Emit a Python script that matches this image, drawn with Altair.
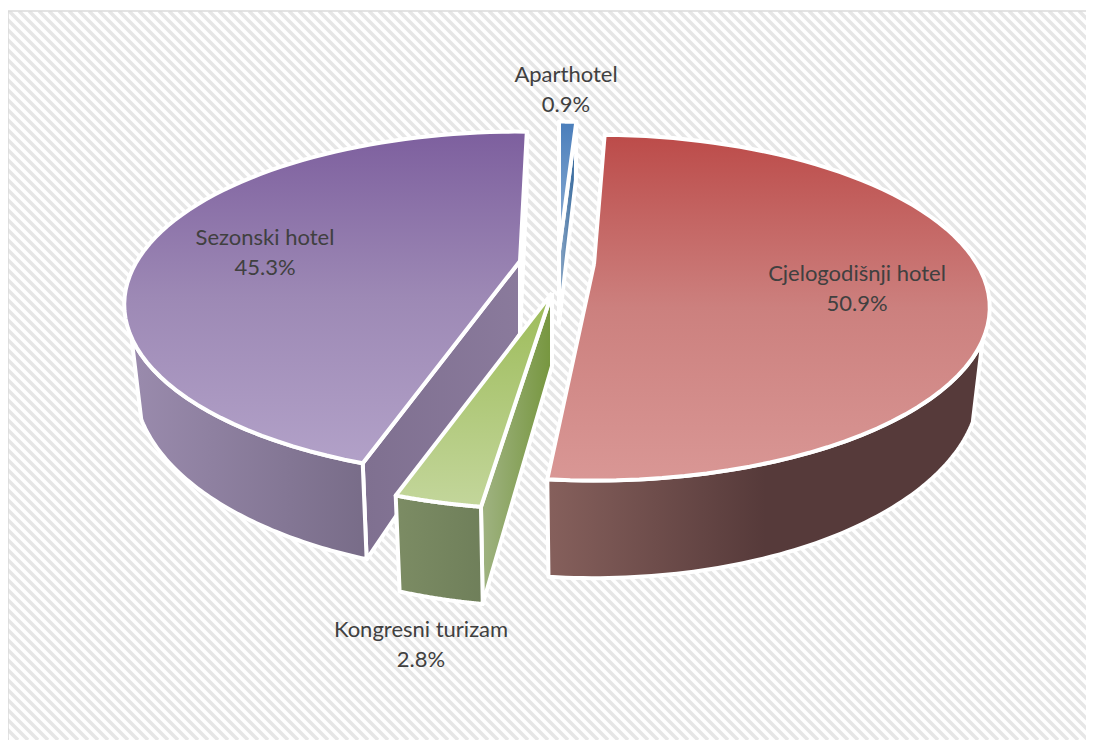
import altair as alt
import numpy as np
import pandas as pd

# --- data ---
categories = ["Aparthotel", "Cjelogodišnji hotel", "Kongresni turizam", "Sezonski hotel"]
shares = [0.9, 50.9, 2.8, 45.3]

# --- layout: page pixels relative to the plot's corner ---
W, H = 1078, 729
OX, OY = 8, 11
R, FH, K, DEPTH, SHRINK = 383.0, 162.0, 0.252, 73.0, 0.975
RIM = 115.0
starts = [0.0, 2.0, 188.0, 198.2]
apexes = [(559, 251), (594, 264), (552, 293), (520, 261)]
label_pos = [(566, 75, 105), (857, 274, 304), (421, 630, 660), (265, 238, 268)]


def project(apex, deg, r=1.0, low=False):
    a = np.radians(deg)
    u, v = r * np.sin(a), r * np.cos(a)
    w = 1 + K * v
    s = SHRINK if low else 1.0
    x = apex[0] + s * R * u / w
    y = apex[1] - FH * v / w + (DEPTH / w if low else 0.0)
    return x, y


def arc(apex, a0, a1, low=False, n=72):
    d = np.linspace(a0, a1, n)
    xs, ys = project(apex, d, low=low)
    return list(zip(xs, ys))


def grad(c0, c1, horizontal=False, mid=None):
    stops = [alt.GradientStop(color=c0, offset=0)]
    if mid:
        stops.append(alt.GradientStop(color=mid, offset=0.5))
    stops.append(alt.GradientStop(color=c1, offset=1))
    if horizontal:
        return alt.Gradient(gradient="linear", stops=stops, x1=0, x2=1, y1=0, y2=0)
    return alt.Gradient(gradient="linear", stops=stops, x1=0, x2=0, y1=0, y2=1)


xs = alt.X("x:Q", scale=alt.Scale(domain=[0, W], nice=False, zero=False), axis=None)
ys = alt.Y("y:Q", scale=alt.Scale(domain=[H, 0], nice=False, zero=False), axis=None)


def poly(points, fill):
    pts = list(points) + [points[0]]
    df = pd.DataFrame({
        "x": [p[0] - OX for p in pts],
        "y": [p[1] - OY for p in pts],
        "i": range(len(pts)),
    })
    return alt.Chart(df).mark_line(
        fill=fill, stroke="white", strokeWidth=4, strokeJoin="round", interpolate="linear"
    ).encode(x=xs, y=ys, order=alt.Order("i:Q"))


def side(apex, deg, fill):
    return poly([project(apex, 0, r=0.0), project(apex, deg),
                 project(apex, deg, low=True), project(apex, 0, r=0.0, low=True)], fill)


def outer(apex, a0, a1, fill):
    return poly(arc(apex, a0, a1) + arc(apex, a1, a0, low=True), fill)


def top(apex, a0, a1, fill):
    return poly([project(apex, 0, r=0.0)] + arc(apex, a0, a1), fill)


ends = [s + v * 3.6 for s, v in zip(starts, shares)]

layers = []

# hatched background
off = np.arange(-H, W, 10)
stripes = pd.DataFrame({"x": off, "x2": off + H, "y": 0, "y2": H})
layers.append(alt.Chart(stripes).mark_rule(color="#E6E6E6", strokeWidth=3.5, clip=True).encode(
    x=xs, x2="x2:Q", y=ys, y2="y2:Q"))

# frame: left and top edges
frame = pd.DataFrame({"x": [0, 0], "x2": [0, W], "y": [0, 0], "y2": [H, 0]})
layers.append(alt.Chart(frame).mark_rule(color="#DADADA", strokeWidth=1.5).encode(
    x=xs, x2="x2:Q", y=ys, y2="y2:Q"))

# Aparthotel
layers += [side(apexes[0], ends[0], grad("#8FAAC8", "#2E6399", horizontal=True)),
           top(apexes[0], starts[0], ends[0], grad("#4A7EBB", "#95B3D7"))]
# Cjelogodišnji hotel
layers += [outer(apexes[1], RIM, ends[1], grad("#86605C", "#563A3A", horizontal=True, mid="#563A3A")),
           top(apexes[1], starts[1], ends[1], grad("#BC4B49", "#D99795", mid="#CC807E"))]
# Sezonski hotel
layers += [side(apexes[3], ends[3], grad("#6E5590", "#7A6399", horizontal=True)),
           side(apexes[3], starts[3], grad("#7F7090", "#8A7A9C", horizontal=True)),
           outer(apexes[3], starts[3], 360 - RIM, grad("#9A8BAD", "#786C88", horizontal=True)),
           top(apexes[3], starts[3], ends[3], grad("#7D5F9E", "#B2A1C8", mid="#9D89B5"))]
# Kongresni turizam
layers += [side(apexes[2], starts[2], grad("#A0B383", "#76963E", horizontal=True)),
           outer(apexes[2], starts[2], ends[2], grad("#7C8C64", "#6F7F5A", horizontal=True)),
           top(apexes[2], starts[2], ends[2], grad("#9CBB58", "#C3D69B"))]

# labels
rows = []
for c, v, (lx, ly1, ly2) in zip(categories, shares, label_pos):
    rows.append({"x": lx - OX, "y": ly1 - OY, "t": c})
    rows.append({"x": lx - OX, "y": ly2 - OY, "t": f"{v:.1f}%"})
layers.append(alt.Chart(pd.DataFrame(rows)).mark_text(
    font="Lato", fontSize=22, color="#404040", align="center", baseline="middle"
).encode(x=xs, y=ys, text="t:N"))

chart = alt.layer(*layers).properties(
    width=W, height=H, background="white",
    padding={"left": 0, "top": 3, "right": 0, "bottom": 0},
    autosize=alt.AutoSizeParams(type="none"),
).configure_view(strokeWidth=0)

chart.save("out.html", embed_options={"renderer": "svg", "actions": False})
